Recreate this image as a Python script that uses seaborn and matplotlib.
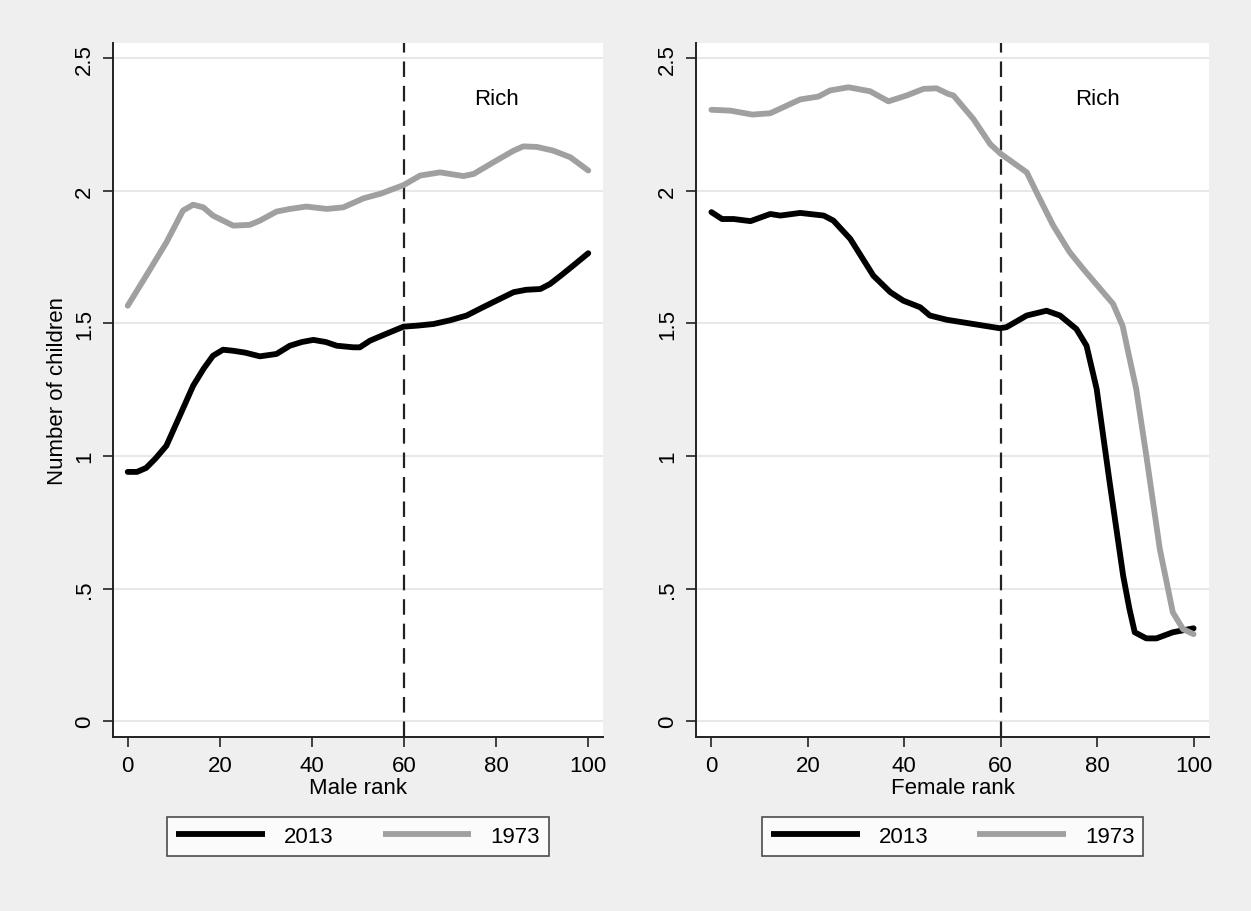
import numpy as np
import pandas as pd
import matplotlib
matplotlib.use("Agg")
import matplotlib.pyplot as plt
import seaborn as sns

# ---------------------------------------------------------------
# data (rank -> number of children)
# ---------------------------------------------------------------
male_x_2013 = [0, 2, 4, 6, 8.4, 11, 14.2, 16.5, 18.5, 20.7, 22.9, 25.5, 28.7, 32.3, 35.2,
               37.8, 40.3, 43, 45.4, 49, 50.4, 52.6, 56, 59.9, 63, 66.4, 70, 73.6, 77,
               80.5, 83.8, 86.5, 89.6, 91.7, 94, 96.5, 100]
male_y_2013 = [0.94, 0.94, 0.955, 0.99, 1.039, 1.14, 1.265, 1.33, 1.378, 1.401, 1.397, 1.39,
               1.376, 1.385, 1.416, 1.43, 1.438, 1.43, 1.416, 1.41, 1.41, 1.435, 1.46, 1.488,
               1.492, 1.498, 1.512, 1.53, 1.56, 1.59, 1.618, 1.627, 1.63, 1.649, 1.68, 1.715,
               1.765]

male_x_1973 = [0, 4, 8.4, 12, 14.2, 16.4, 18.5, 22.9, 26.5, 28.7, 32.3, 35.2, 38.8, 43.2,
               46.8, 51.2, 55, 59.9, 63.5, 67.8, 72.9, 75.1, 79.4, 83.8, 85.9, 88.8, 92.4,
               96.1, 100]
male_y_1973 = [1.567, 1.68, 1.806, 1.926, 1.948, 1.938, 1.907, 1.869, 1.872, 1.888, 1.922,
               1.932, 1.941, 1.932, 1.938, 1.972, 1.99, 2.022, 2.058, 2.07, 2.056, 2.064, 2.108,
               2.152, 2.168, 2.166, 2.152, 2.127, 2.077]

female_x_2013 = [0, 2.2, 4.6, 8.1, 12.2, 14.3, 18.4, 23.3, 25.3, 28.8, 33.6, 37.1, 39.8, 43.3,
                 45.3, 48.8, 54.3, 59.8, 61.2, 65.4, 69.5, 72.3, 75.7, 77.8, 79.9, 82.6, 85.4,
                 86.7, 87.8, 90.2, 92.3, 95.7, 100]
female_y_2013 = [1.92, 1.894, 1.894, 1.886, 1.913, 1.907, 1.917, 1.907, 1.888, 1.819, 1.68,
                 1.618, 1.586, 1.561, 1.53, 1.514, 1.498, 1.482, 1.486, 1.53, 1.548, 1.53, 1.479,
                 1.416, 1.253, 0.9, 0.548, 0.423, 0.335, 0.312, 0.312, 0.335, 0.35]

female_x_1973 = [0, 3.9, 8.5, 12.2, 18.4, 22.2, 24.6, 28.4, 32.9, 36.7, 40.5, 44, 46.7, 49.1,
                 50.2, 54.3, 57.8, 60, 65.4, 68.1, 70.9, 74.3, 77.1, 83.3, 85.3, 86.3, 88.1,
                 90.2, 93, 95.7, 97.8, 100]
female_y_1973 = [2.306, 2.303, 2.288, 2.293, 2.345, 2.356, 2.379, 2.391, 2.376, 2.338, 2.36,
                 2.385, 2.387, 2.366, 2.36, 2.272, 2.177, 2.14, 2.07, 1.97, 1.869, 1.769, 1.706,
                 1.574, 1.49, 1.404, 1.253, 1.001, 0.649, 0.41, 0.347, 0.328]

years = ["2013", "1973"]
ytick_vals = [0, 0.5, 1, 1.5, 2, 2.5]
ytick_labels = ["0", ".5", "1", "1.5", "2", "2.5"]
xtick_vals = [0, 20, 40, 60, 80, 100]
rich_cutoff = 60


def long_frame(x13, y13, x73, y73):
    a = pd.DataFrame({"rank": x13, "children": y13, "year": "2013"})
    b = pd.DataFrame({"rank": x73, "children": y73, "year": "1973"})
    return pd.concat([a, b], ignore_index=True)


male_df = long_frame(male_x_2013, male_y_2013, male_x_1973, male_y_1973)
female_df = long_frame(female_x_2013, female_y_2013, female_x_1973, female_y_1973)

# ---------------------------------------------------------------
# style
# ---------------------------------------------------------------
sns.set_style("white")
plt.rcParams["font.family"] = ["Liberation Sans", "DejaVu Sans"]
plt.rcParams["text.color"] = "black"
plt.rcParams["axes.labelcolor"] = "black"
plt.rcParams["xtick.color"] = "black"
plt.rcParams["ytick.color"] = "black"
bg = "#efefef"
palette = {"2013": "black", "1973": "#a0a0a0"}
fs = 16

fig = plt.figure(figsize=(12.51, 9.12), dpi=100, facecolor=bg)
ax1 = fig.add_axes([113 / 1251, 1 - 738 / 912, 490 / 1251, 694 / 912])
ax2 = fig.add_axes([696 / 1251, 1 - 738 / 912, 513 / 1251, 694 / 912])

panels = [(ax1, male_df, "Male rank", 358), (ax2, female_df, "Female rank", 952.5)]

for ax, df, xlab, leg_cx in panels:
    ax.set_facecolor("white")
    for v in ytick_vals:
        ax.axhline(v, color="#e8e8e8", lw=1.5, zorder=0)
    sns.lineplot(data=df, x="rank", y="children", hue="year", hue_order=years,
                 palette=palette, estimator=None, sort=True, lw=4.2, ax=ax)
    ax.axvline(rich_cutoff, color="#222222", lw=1.6, dashes=(7, 4), zorder=1)
    ax.text(80, 2.35, "Rich", ha="center", va="center", fontsize=fs)

    ax.set_xlim(-3.2, 103.2)
    ax.set_ylim(-0.06, 2.558)
    ax.set_xticks(xtick_vals)
    ax.set_yticks(ytick_vals)
    ax.set_yticklabels(ytick_labels, rotation=90, va="center")
    ax.tick_params(axis="both", direction="out", length=7, width=1.2,
                   labelsize=fs, color="#222222", pad=6,
                   bottom=True, left=True)
    ax.set_xlabel(xlab, fontsize=fs, labelpad=1)
    ax.set_ylabel("")
    for side in ["top", "right"]:
        ax.spines[side].set_visible(False)
    for side in ["left", "bottom"]:
        ax.spines[side].set_color("#222222")
        ax.spines[side].set_linewidth(1.4)

    handles, labels = ax.get_legend_handles_labels()
    ax.get_legend().remove()
    leg = fig.legend(handles, labels, loc="center", ncol=2,
                     bbox_to_anchor=(leg_cx / 1251, 1 - 837.5 / 912),
                     fontsize=fs, frameon=True, fancybox=False,
                     handlelength=4.0, handletextpad=0.85, columnspacing=2.2,
                     borderpad=0.4, borderaxespad=0)
    leg.get_frame().set_edgecolor("#222222")
    leg.get_frame().set_linewidth(1.2)
    for line in leg.get_lines():
        line.set_linewidth(4.2)
        line.set_solid_capstyle("butt")

ax1.set_ylabel("Number of children", fontsize=fs, labelpad=4)

fig.savefig("out.png", dpi=100, facecolor=bg)
